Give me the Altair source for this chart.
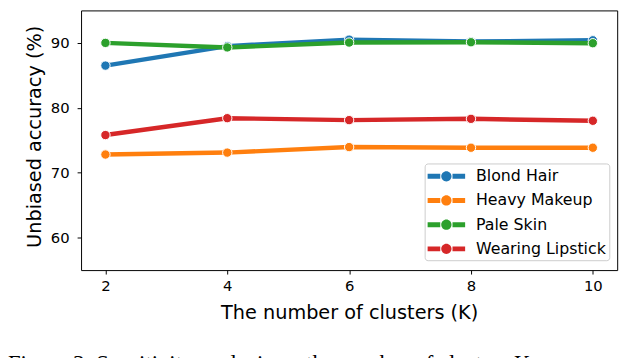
import altair as alt
import pandas as pd

K = [2, 4, 6, 8, 10]
series_names = ["Blond Hair", "Heavy Makeup", "Pale Skin", "Wearing Lipstick"]
colors = ["#1f77b4", "#ff7f0e", "#2ca02c", "#d62728"]
blond_hair = [86.5, 89.5, 90.5, 90.2, 90.4]
heavy_makeup = [72.8, 73.1, 73.95, 73.85, 73.85]
pale_skin = [90.0, 89.3, 90.05, 90.1, 89.95]
wearing_lipstick = [75.8, 78.4, 78.1, 78.3, 78.0]
x_ticks = [2, 4, 6, 8, 10]
y_ticks = [60, 70, 80, 90]
caption = "Figure 3: Sensitivity analysis on the number of clusters K."

values = [blond_hair, heavy_makeup, pale_skin, wearing_lipstick]
rows = []
for name, vals in zip(series_names, values):
    for k, v in zip(K, vals):
        rows.append({"K": k, "acc": v, "series": name})
df = pd.DataFrame(rows)

W, H = 543, 263

xenc = alt.X("K:Q", scale=alt.Scale(domain=[1.6, 10.4], nice=False, zero=False),
             axis=alt.Axis(values=x_ticks, title="The number of clusters (K)", grid=False,
                           labelPadding=5, titleY=49, titleBaseline="alphabetic"))
yenc = alt.Y("acc:Q", scale=alt.Scale(domain=[55, 95], nice=False, zero=False),
             axis=alt.Axis(values=y_ticks, title="Unbiased accuracy (%)", grid=False,
                           labelPadding=8, titleX=-41, titleY=127.5, titleAngle=270,
                           titleAlign="center", titleBaseline="alphabetic"))

leg_path = ("M-1.9,-0.25 L-0.62,-0.25 L-0.62,0.25 L-1.9,0.25 Z "
            "M0.62,-0.25 L1.9,-0.25 L1.9,0.25 L0.62,0.25 Z "
            "M0,-0.52 A0.52,0.52 0 1,1 0,0.52 A0.52,0.52 0 1,1 0,-0.52 Z")

legend = alt.Legend(title=None, orient="none", legendX=348, legendY=155,
                    symbolType=leg_path, symbolSize=400, symbolStrokeWidth=0,
                    symbolOpacity=1, symbolOffset=9, labelOffset=20, padding=3,
                    rowPadding=6.5, labelFontSize=16, labelFont="DejaVu Sans",
                    labelColor="black", fillColor="white", strokeColor="#cccccc",
                    cornerRadius=3, labelLimit=300)

color_scale = alt.Scale(domain=series_names, range=colors)

layers = []
for name, col in zip(series_names, colors):
    base = alt.Chart(df).transform_filter(alt.datum.series == name)
    line = base.mark_line(strokeWidth=4.5, color=col).encode(x=xenc, y=yenc)
    pts = base.mark_point(filled=True, size=90, stroke="white", strokeWidth=1,
                          opacity=1).encode(
        x=xenc, y=yenc,
        color=alt.Color("series:N", scale=color_scale, legend=legend))
    layers += [line, pts]

cap = alt.Chart(pd.DataFrame({"t": [caption]})).mark_text(
    font="Liberation Serif", fontSize=23, align="left", baseline="alphabetic",
    color="black").encode(x=alt.value(-74), y=alt.value(365), text="t:N")
layers.append(cap)

chart = alt.layer(*layers).properties(
    width=W, height=H,
    autosize=alt.AutoSizeParams(type="none"),
    padding={"left": 74, "top": 0, "right": 15, "bottom": 120},
).configure_view(stroke="black", strokeWidth=1).configure_axis(
    domain=False, ticks=True, tickColor="black", tickSize=4, tickWidth=1,
    labelFont="DejaVu Sans", labelFontSize=15, labelColor="black",
    titleFont="DejaVu Sans", titleFontSize=19.5, titleFontWeight="normal",
    titleColor="black")

chart.save("out.html", embed_options={"renderer": "svg", "actions": False})
